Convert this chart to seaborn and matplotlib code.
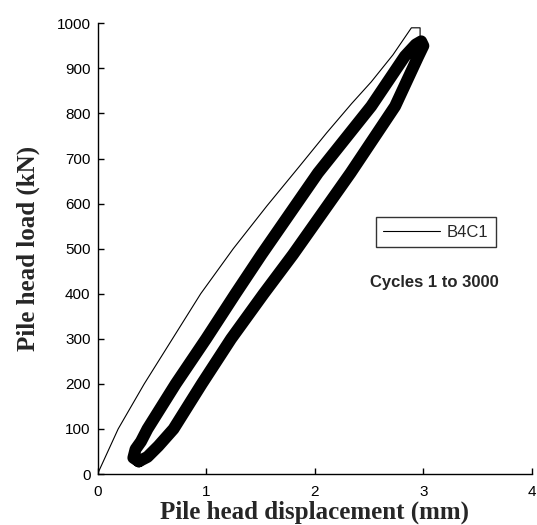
import pandas as pd
import matplotlib
matplotlib.use("Agg")
import matplotlib.pyplot as plt
import seaborn as sns

# First loading cycle (thin line)
first_disp = [0.0, 0.19, 0.43, 0.69, 0.95, 1.25, 1.56, 1.85, 2.11, 2.34, 2.52, 2.72, 2.89, 2.97, 2.97]
first_load = [0, 100, 200, 300, 400, 500, 595, 680, 757, 822, 870, 930, 990, 990, 962]

# Cycles 1 to 3000 (thick loop): loading branch then unloading branch
loop_disp = [0.38, 0.33, 0.35, 0.40, 0.46, 0.72, 1.00, 1.27, 1.51, 2.03, 2.52, 2.83, 2.93, 2.98,
             3.00, 2.95, 2.74, 2.33, 1.80, 1.53, 1.23, 0.96, 0.70, 0.56, 0.46, 0.38]
loop_load = [28, 36, 55, 72, 100, 200, 300, 400, 487, 668, 816, 927, 953, 960,
             950, 925, 816, 668, 487, 400, 300, 200, 100, 62, 38, 28]

x_ticks = [0, 1, 2, 3, 4]
y_ticks = [0, 100, 200, 300, 400, 500, 600, 700, 800, 900, 1000]

first_df = pd.DataFrame({"disp": first_disp, "load": first_load})
loop_df = pd.DataFrame({"disp": loop_disp, "load": loop_load})

sns.set_style("ticks")
plt.rcParams["font.family"] = ["Liberation Sans", "DejaVu Sans"]

fig = plt.figure(figsize=(5.37, 5.25), dpi=100)
ax = fig.add_axes([0.1816, 0.0971, 0.809, 0.8585])

sns.lineplot(data=first_df, x="disp", y="load", sort=False, estimator=None,
             color="black", linewidth=0.8, label="B4C1", ax=ax)
sns.lineplot(data=loop_df, x="disp", y="load", sort=False, estimator=None,
             color="black", linewidth=8.6, solid_capstyle="round",
             solid_joinstyle="round", legend=False, ax=ax)

ax.set_xlim(0, 4)
ax.set_ylim(0, 1000)
ax.set_xticks(x_ticks)
ax.set_yticks(y_ticks)
ax.tick_params(direction="in", length=4, width=1, labelsize=11, colors="black")
ax.tick_params(axis="x", pad=8)
ax.tick_params(axis="y", pad=5)
for side in ["left", "bottom"]:
    ax.spines[side].set_color("black")
    ax.spines[side].set_linewidth(1)
sns.despine(ax=ax)

ax.set_xlabel("Pile head displacement (mm)", family="Liberation Serif",
              fontweight="bold", fontsize=18, labelpad=1)
ax.set_ylabel("Pile head load (kN)", family="Liberation Serif",
              fontweight="bold", fontsize=18, labelpad=12)

leg = ax.legend(loc="upper left", bbox_to_anchor=(0.641, 0.570), borderaxespad=0,
                fontsize=12, handlelength=3.4, frameon=True, fancybox=False,
                borderpad=0.45, handletextpad=0.4)
leg.get_frame().set_edgecolor("black")
leg.get_frame().set_linewidth(1)

ax.text(3.1, 424, "Cycles 1 to 3000", fontsize=12, fontweight="bold",
        ha="center", va="center")

fig.savefig("out.png", dpi=100)
